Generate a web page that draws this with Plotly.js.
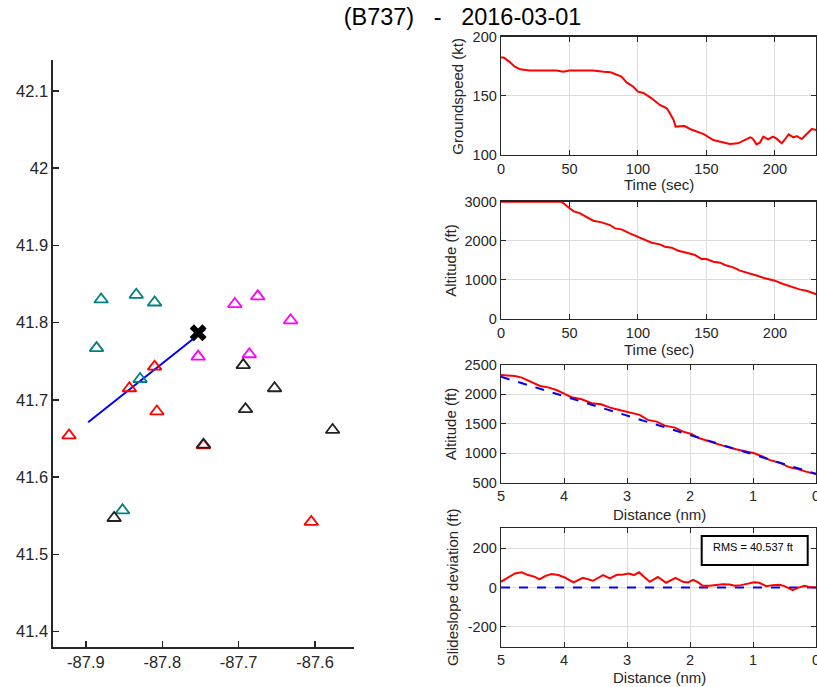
<!DOCTYPE html>
<html>
<head>
<meta charset="utf-8">
<script src="https://cdn.plot.ly/plotly-3.0.1.min.js"></script>
<style>html,body{margin:0;padding:0;background:#fff;} #chart{width:817px;height:687px;}</style>
</head>
<body>
<div id="chart"></div>
<script>
// ---------- Map (left) ----------
const tealLon = [-87.880, -87.834, -87.810, -87.886, -87.829, -87.852];
const tealLat = [41.830, 41.836, 41.826, 41.767, 41.727, 41.557];
const magentaLon = [-87.705, -87.675, -87.632, -87.753, -87.686];
const magentaLat = [41.824, 41.834, 41.803, 41.756, 41.759];
const redLon = [-87.810, -87.843, -87.807, -87.922, -87.746, -87.605];
const redLat = [41.743, 41.715, 41.685, 41.654, 41.641, 41.542];
const blackLon = [-87.694, -87.653, -87.691, -87.577, -87.746, -87.863];
const blackLat = [41.745, 41.715, 41.688, 41.661, 41.642, 41.547];
const trackLon = [-87.897, -87.860, -87.820, -87.780, -87.744];
const trackLat = [41.671, 41.700, 41.731, 41.762, 41.791];
const fixLon = [-87.753];
const fixLat = [41.787];
const lonTicks = [-87.9, -87.8, -87.7, -87.6];
const lonTickText = ['-87.9', '-87.8', '-87.7', '-87.6'];
const latTicks = [41.4, 41.5, 41.6, 41.7, 41.8, 41.9, 42.0, 42.1];
const latTickText = ['41.4', '41.5', '41.6', '41.7', '41.8', '41.9', '42', '42.1'];

// ---------- Groundspeed vs time ----------
const gsTime = [0, 2, 6.6, 10, 14, 21, 40.6, 45.5, 50, 67, 75, 80, 88, 91.7, 96.6, 100, 104, 110, 116, 121, 123, 126, 127.5, 131, 134, 138, 143, 148, 155, 161, 167, 173, 178, 182, 183.7, 186.6, 189, 191.5, 195, 198.5, 201, 205, 207, 210, 213.5, 216, 219.6, 223, 227, 230.4];
const gsSpeed = [182.5, 182.5, 178.3, 174.6, 172.4, 171.5, 171.5, 170.4, 171.5, 171.5, 170.4, 169.9, 166.2, 161.4, 157.7, 153.5, 152.4, 147.9, 142.3, 139.4, 136, 129.6, 124, 124.5, 124.5, 122, 119.7, 117.7, 112.7, 111.3, 109.3, 109.9, 112.7, 114.9, 114, 109, 110.4, 115.5, 113.2, 115.5, 114, 109.9, 112.7, 117.5, 114.9, 116, 113.5, 117.7, 122, 121];

// ---------- Altitude vs time ----------
const altTime = [0, 44.3, 48, 52.8, 57.7, 62.5, 67.4, 73.5, 79.6, 83.2, 88, 94, 100, 105, 110, 116, 119.7, 124.6, 129.4, 135.5, 141.6, 146.5, 150, 155, 160, 163.5, 169.6, 174.5, 181.8, 187.8, 192.7, 200, 206, 212, 218, 223, 230.4];
const altFt = [3000, 3000, 2890, 2760, 2700, 2616, 2514, 2471, 2403, 2318, 2292, 2190, 2105, 2037, 1952, 1909, 1850, 1824, 1747, 1696, 1636, 1534, 1534, 1466, 1440, 1381, 1321, 1236, 1168, 1100, 1040, 980, 895, 826, 758, 724, 630];

// ---------- Altitude vs distance ----------
const distNm = [5, 4.78, 4.67, 4.54, 4.38, 4.25, 4.12, 3.99, 3.88, 3.72, 3.56, 3.41, 3.27, 3.12, 2.96, 2.80, 2.67, 2.53, 2.40, 2.24, 2.11, 1.98, 1.85, 1.72, 1.58, 1.43, 1.27, 1.14, 0.98, 0.84, 0.74, 0.58, 0.42, 0.29, 0.16, 0];
const distAlt = [2330, 2313, 2285, 2217, 2144, 2120, 2075, 2008, 1952, 1918, 1850, 1833, 1776, 1736, 1697, 1652, 1567, 1538, 1470, 1436, 1368, 1327, 1255, 1208, 1170, 1113, 1068, 1040, 1000, 943, 887, 840, 761, 733, 688, 647];
const gsRefDist = [5, 0];
const gsRefAlt = [2300, 650];

// ---------- Glideslope deviation ----------
const devDist = [5, 4.88, 4.78, 4.67, 4.57, 4.46, 4.39, 4.30, 4.20, 4.09, 3.99, 3.85, 3.70, 3.54, 3.38, 3.27, 3.17, 3.06, 2.97, 2.89, 2.81, 2.73, 2.64, 2.51, 2.38, 2.23, 2.11, 2.03, 1.95, 1.87, 1.80, 1.69, 1.58, 1.48, 1.37, 1.29, 1.19, 1.08, 0.98, 0.90, 0.79, 0.69, 0.58, 0.50, 0.37, 0.29, 0.18, 0.11, 0];
const devFt = [29, 54, 71, 77, 63, 54, 41, 58, 68, 63, 51, 26, 49, 34, 63, 46, 63, 66, 71, 63, 77, 54, 29, 53, 24, 49, 29, 26, 39, 26, 9, 9, 14, 17, 15, 9, 12, 19, 26, 24, 7, 12, 14, 7, -14, -2, 9, 3, 0];
const zeroDist = [5, 0];
const zeroDev = [0, 0];
const rmsText = 'RMS = 40.537 ft';

const FONT = 'Liberation Sans, Arial, Helvetica, sans-serif';
const AX = '#262626';
const RED = '#ff0000';
const BLUE = '#0000ff';

function tri(lon, lat, color) {
  return {x: lon, y: lat, xaxis: 'x', yaxis: 'y', type: 'scatter', mode: 'markers',
    marker: {symbol: 'triangle-up-open', size: 12, color: color, line: {color: color, width: 1.8}},
    hoverinfo: 'x+y'};
}

const traces = [
  {x: trackLon, y: trackLat, xaxis: 'x', yaxis: 'y', type: 'scatter', mode: 'lines', line: {color: BLUE, width: 2}},
  tri(tealLon, tealLat, '#008080'),
  tri(magentaLon, magentaLat, '#ff00ff'),
  tri(redLon, redLat, RED),
  tri(blackLon, blackLat, '#222222'),
  {x: fixLon, y: fixLat, xaxis: 'x', yaxis: 'y', type: 'scatter', mode: 'markers',
    marker: {symbol: 'x', size: 15, color: '#000000', line: {width: 0}}},
  {x: gsTime, y: gsSpeed, xaxis: 'x2', yaxis: 'y2', type: 'scatter', mode: 'lines', line: {color: RED, width: 2}},
  {x: altTime, y: altFt, xaxis: 'x3', yaxis: 'y3', type: 'scatter', mode: 'lines', line: {color: RED, width: 2}},
  {x: distNm, y: distAlt, xaxis: 'x4', yaxis: 'y4', type: 'scatter', mode: 'lines', line: {color: RED, width: 2}},
  {x: gsRefDist, y: gsRefAlt, xaxis: 'x4', yaxis: 'y4', type: 'scatter', mode: 'lines', line: {color: BLUE, width: 2, dash: 'dash'}},
  {x: zeroDist, y: zeroDev, xaxis: 'x5', yaxis: 'y5', type: 'scatter', mode: 'lines', line: {color: BLUE, width: 2, dash: 'dash'}},
  {x: devDist, y: devFt, xaxis: 'x5', yaxis: 'y5', type: 'scatter', mode: 'lines', line: {color: RED, width: 2}}
];

const X0 = 501 / 817, X1 = 816 / 817;
function py(p) { return 1 - p / 687; }
function panelX(anchor, range, tickvals, ticktext) {
  const a = {domain: [X0, X1], anchor: anchor, range: range, tickvals: tickvals,
    showline: true, mirror: 'allticks', linecolor: AX, linewidth: 1.3,
    ticks: 'inside', ticklen: 5, tickcolor: AX, tickwidth: 1,
    showgrid: true, gridcolor: '#dcdcdc', gridwidth: 1, zeroline: false,
    ticklabeloverflow: 'allow',
    tickfont: {family: FONT, size: 14.5, color: AX}, fixedrange: true};
  if (ticktext) a.ticktext = ticktext;
  return a;
}
function panelY(anchor, top, bottom, range, tickvals, ticktext) {
  const a = {domain: [py(bottom), py(top)], anchor: anchor, range: range, tickvals: tickvals,
    showline: true, mirror: 'allticks', linecolor: AX, linewidth: 1.3,
    ticks: 'inside', ticklen: 5, tickcolor: AX, tickwidth: 1,
    showgrid: true, gridcolor: '#dcdcdc', gridwidth: 1, zeroline: false,
    tickfont: {family: FONT, size: 14.5, color: AX}, fixedrange: true};
  if (ticktext) a.ticktext = ticktext;
  return a;
}

function ann(text, xp, yp, angle, size) {
  return {text: text, xref: 'paper', yref: 'paper', x: xp / 817, y: py(yp), xanchor: 'center', yanchor: 'middle',
    showarrow: false, textangle: angle || 0, font: {family: FONT, size: size || 15, color: AX}};
}

const layout = {
  width: 817, height: 687,
  margin: {l: 0, r: 0, t: 0, b: 0},
  paper_bgcolor: '#ffffff', plot_bgcolor: '#ffffff',
  showlegend: false,
  font: {family: FONT, color: AX},
  title: {text: '(B737)\u00a0\u00a0\u00a0-\u00a0\u00a0\u00a02016-03-01', x: 462.5 / 817, xanchor: 'center', xref: 'container',
    y: py(17), yanchor: 'middle', yref: 'container', font: {family: FONT, size: 23.5, color: '#000000'}},
  xaxis: {domain: [53 / 817, 354 / 817], anchor: 'y', range: [-87.943, -87.549], tickvals: lonTicks, ticktext: lonTickText,
    showline: true, linecolor: AX, linewidth: 1.6, ticks: 'inside', ticklen: 6, tickcolor: AX, tickwidth: 1.5,
    showgrid: false, zeroline: false, tickfont: {family: FONT, size: 16.5, color: AX}, fixedrange: true},
  yaxis: {domain: [py(647), py(60)], anchor: 'x', range: [41.380, 42.140], tickvals: latTicks, ticktext: latTickText,
    showline: true, linecolor: AX, linewidth: 1.6, ticks: 'inside', ticklen: 6, tickcolor: AX, tickwidth: 1.5,
    showgrid: false, zeroline: false, tickfont: {family: FONT, size: 16.5, color: AX}, fixedrange: true},
  xaxis2: panelX('y2', [0, 230], [0, 50, 100, 150, 200]),
  yaxis2: panelY('x2', 36.7, 155, [100, 200], [100, 150, 200]),
  xaxis3: panelX('y3', [0, 230], [0, 50, 100, 150, 200]),
  yaxis3: panelY('x3', 201.7, 319, [0, 3000], [0, 1000, 2000, 3000]),
  xaxis4: panelX('y4', [5, 0], [5, 4, 3, 2, 1, 0]),
  yaxis4: panelY('x4', 365, 482.7, [500, 2500], [500, 1000, 1500, 2000, 2500]),
  xaxis5: panelX('y5', [5, 0], [5, 4, 3, 2, 1, 0]),
  yaxis5: panelY('x5', 528.3, 646.7, [-300, 300], [-200, 0, 200], ['-200', '0', '200']),
  shapes: [
    {type: 'rect', xref: 'paper', yref: 'paper', x0: 701.7 / 817, x1: 807.7 / 817, y0: py(565), y1: py(536),
      line: {color: '#000000', width: 2}, fillcolor: '#ffffff'}
  ],
  annotations: [
    ann('Groundspeed (kt)', 456.7, 96, -90),
    ann('Time (sec)', 659, 185),
    ann('Altitude (ft)', 450.5, 260.3, -90),
    ann('Time (sec)', 659, 349.3),
    ann('Altitude (ft)', 450.5, 423.8, -90),
    ann('Distance (nm)', 659, 514),
    ann('Glideslope deviation (ft)', 452.5, 587.5, -90),
    ann('Distance (nm)', 659, 677),
    {text: rmsText, xref: 'paper', yref: 'paper', x: 710.7 / 817, y: py(547.3), xanchor: 'left', yanchor: 'middle',
      showarrow: false, font: {family: FONT, size: 11, color: '#000000'}}
  ]
};

Plotly.newPlot('chart', traces, layout, {displayModeBar: false, staticPlot: true});
</script>
</body>
</html>
